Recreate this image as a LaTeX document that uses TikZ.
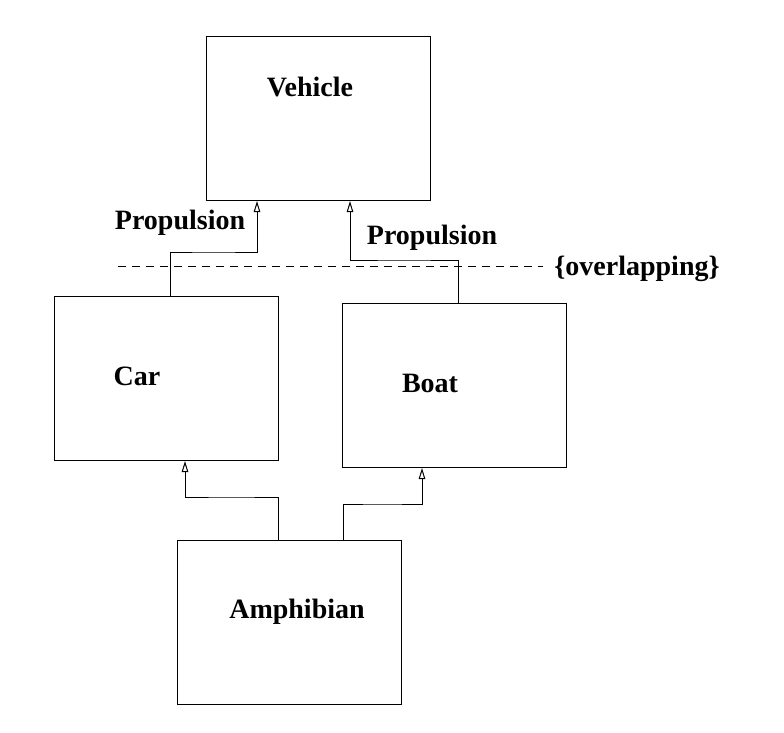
\documentclass[tikz,border=0pt]{standalone}
\usepackage{fontspec}
\setmainfont{Liberation Serif}
\usetikzlibrary{arrows.meta}
\begin{document}
\begin{tikzpicture}[x=1pt,y=-1pt,
  cls/.style={draw,line width=1pt,inner sep=0pt,minimum width=224pt,minimum height=164pt},
  lbl/.style={font=\fontsize{28}{34}\selectfont\bfseries,inner sep=0pt},
  gen/.style={draw,line width=1pt,-{Triangle[open,length=11pt,width=6.5pt]}}]
\useasboundingbox (0,0) rectangle (784,733);
\node[cls] (vbox) at (318,118.5) {};
\node[cls] (cbox) at (166.5,378.5) {};
\node[cls] (bbox) at (454.5,385.5) {};
\node[cls] (abox) at (289,622.5) {};
\node[lbl] (vehicle) at (310,87) {Vehicle};
\node[lbl] (car) at (137,376) {Car};
\node[lbl] (boat) at (430,383) {Boat};
\node[lbl] (amph) at (297,612) {Amphibian};
\node[lbl] (p1) at (180,223) {Propulsion};
\node[lbl] (p2) at (432,238) {Propulsion};
\node[lbl] (ov) at (637,269) {\{overlapping\}};
\coordinate (dl) at (118,266);
\coordinate (dr) at (543,266);
\draw[line width=1pt,dash pattern=on 8pt off 6pt] (dl) -- (dr);
\draw[gen] (cbox.north -| 170,0) |- (213.5,252) -| (vbox.south -| 257,0);
\draw[gen] (bbox.north -| 458,0) |- (404,260) -| (vbox.south -| 350,0);
\draw[gen] (abox.north -| 278,0) |- (231,497) -| (cbox.south -| 185,0);
\draw[gen] (abox.north -| 343,0) |- (382,504) -| (bbox.south -| 422,0);
\end{tikzpicture}
\end{document}
